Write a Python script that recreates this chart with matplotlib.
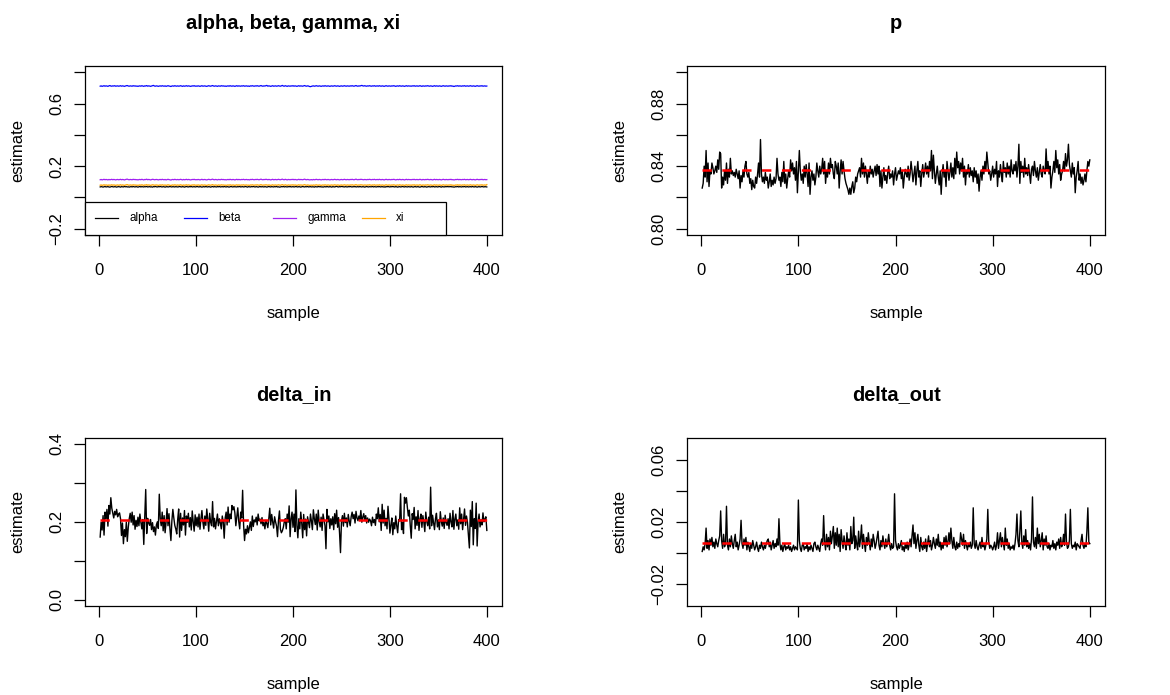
import matplotlib
matplotlib.use("Agg")
import matplotlib.pyplot as plt
import numpy as np
from matplotlib.patches import Rectangle

plt.rcParams['font.family'] = ['Liberation Sans', 'DejaVu Sans']
plt.rcParams['lines.scale_dashes'] = False

# ---------------- data ----------------
series_names = ['alpha', 'beta', 'gamma', 'xi']
series_colors = ['black', '#0000FF', '#A020F0', '#FFA500']

alpha = [
 .067,.069,.068,.066,.068,.070,.067,.068,.069,.067,.066,.068,.070,.068,.067,.069,.068,.066,.068,.069,
 .068,.066,.069,.068,.067,.070,.068,.069,.067,.068,.066,.068,.069,.067,.070,.068,.067,.069,.068,.066,
 .068,.070,.067,.069,.068,.067,.069,.068,.070,.067,.068,.069,.067,.068,.066,.069,.068,.070,.068,.067,
 .069,.068,.070,.068,.067,.069,.068,.066,.068,.069,.067,.068,.070,.068,.067,.069,.068,.067,.069,.068,
 .067,.068,.070,.068,.067,.069,.068,.066,.068,.070,.068,.067,.069,.068,.070,.067,.068,.069,.067,.068,
 .070,.068,.067,.069,.068,.066,.068,.069,.067,.070,.068,.067,.069,.068,.066,.068,.070,.067,.069,.068,
 .067,.069,.068,.070,.067,.068,.069,.067,.070,.068,.067,.069,.068,.066,.068,.070,.068,.067,.069,.068,
 .068,.067,.069,.068,.070,.067,.068,.069,.067,.068,.070,.068,.066,.069,.068,.067,.069,.068,.070,.068,
 .067,.069,.068,.066,.068,.070,.067,.069,.068,.067,.069,.068,.066,.068,.070,.068,.067,.069,.068,.067,
 .069,.068,.070,.067,.068,.066,.067,.069,.068,.070,.067,.069,.068,.067,.069,.068,.070,.067,.068,.069,
 .067,.068,.070,.068,.067,.069,.068,.066,.068,.070,.068,.067,.069,.068,.070,.067,.068,.069,.067,.068,
 .068,.066,.069,.068,.067,.070,.068,.069,.067,.068,.066,.068,.069,.067,.070,.068,.067,.069,.068,.066,
 .069,.068,.067,.069,.071,.068,.067,.069,.068,.070,.069,.068,.067,.069,.068,.067,.069,.068,.070,.068,
 .067,.069,.068,.070,.067,.068,.069,.067,.070,.068,.067,.069,.068,.066,.068,.070,.068,.067,.069,.068,
 .068,.070,.067,.069,.068,.067,.069,.068,.070,.067,.068,.069,.067,.068,.066,.069,.068,.070,.068,.067,
 .069,.068,.070,.068,.067,.069,.068,.066,.068,.069,.067,.068,.070,.068,.067,.069,.068,.067,.069,.068,
 .067,.069,.068,.066,.068,.070,.067,.068,.069,.067,.066,.068,.070,.068,.067,.069,.068,.066,.068,.069,
 .068,.067,.069,.068,.070,.067,.068,.069,.067,.068,.070,.068,.066,.069,.068,.067,.069,.068,.070,.068,
 .069,.068,.070,.067,.068,.066,.067,.069,.068,.070,.067,.069,.068,.067,.069,.068,.070,.067,.068,.069,
 .067,.068,.069,.067,.070,.068,.067,.069,.068,.066,.068,.069,.067,.068,.070,.068,.067,.069,.068,.067]

beta = [
 .711,.713,.710,.712,.714,.711,.713,.712,.710,.713,.715,.712,.711,.713,.712,.714,.711,.712,.713,.711,
 .712,.714,.711,.713,.712,.710,.712,.714,.715,.712,.711,.713,.712,.711,.714,.712,.713,.711,.712,.710,
 .712,.713,.711,.714,.712,.710,.713,.712,.715,.711,.713,.712,.710,.712,.714,.716,.712,.711,.713,.712,
 .710,.712,.713,.711,.714,.712,.711,.713,.710,.712,.714,.712,.711,.709,.712,.713,.711,.714,.712,.711,
 .713,.711,.712,.714,.712,.710,.713,.711,.712,.714,.711,.713,.712,.710,.711,.713,.712,.714,.711,.712,
 .711,.713,.712,.710,.712,.714,.711,.712,.713,.711,.710,.712,.714,.712,.711,.713,.715,.712,.711,.713,
 .712,.710,.713,.712,.711,.714,.712,.713,.711,.712,.710,.712,.713,.711,.714,.712,.711,.713,.712,.710,
 .712,.714,.711,.713,.712,.711,.713,.712,.714,.711,.712,.713,.711,.712,.710,.713,.712,.714,.712,.711,
 .713,.712,.714,.712,.711,.713,.715,.712,.711,.713,.712,.714,.716,.711,.713,.712,.710,.712,.714,.711,
 .712,.713,.711,.712,.714,.712,.711,.713,.716,.712,.711,.714,.712,.710,.713,.712,.711,.713,.712,.714,
 .711,.713,.712,.710,.712,.714,.711,.713,.712,.711,.713,.715,.712,.711,.713,.712,.709,.708,.710,.712,
 .713,.711,.712,.714,.712,.711,.713,.712,.710,.712,.713,.711,.714,.712,.711,.713,.712,.710,.712,.713,
 .711,.712,.714,.712,.711,.713,.712,.710,.712,.713,.711,.712,.714,.712,.711,.713,.712,.711,.713,.712,
 .714,.712,.711,.713,.715,.712,.711,.713,.712,.714,.716,.713,.712,.714,.712,.711,.713,.712,.714,.712,
 .711,.713,.712,.714,.711,.712,.713,.711,.714,.712,.711,.713,.712,.710,.712,.714,.712,.711,.713,.712,
 .711,.713,.712,.714,.712,.710,.712,.713,.711,.714,.712,.711,.713,.712,.710,.712,.714,.711,.713,.712,
 .712,.711,.713,.712,.714,.711,.712,.713,.711,.712,.714,.712,.710,.713,.712,.711,.713,.712,.714,.712,
 .711,.713,.712,.710,.712,.714,.711,.713,.712,.711,.713,.712,.710,.712,.714,.712,.711,.713,.712,.711,
 .713,.712,.714,.711,.712,.709,.711,.713,.712,.714,.711,.713,.712,.711,.713,.712,.714,.711,.712,.713,
 .711,.712,.714,.712,.711,.713,.712,.710,.712,.714,.712,.711,.713,.712,.714,.711,.712,.713,.711,.712]

gamma = [
 .113,.115,.112,.114,.116,.113,.115,.114,.112,.115,.113,.114,.116,.113,.115,.114,.112,.114,.115,.113,
 .114,.116,.113,.115,.114,.112,.114,.116,.117,.114,.113,.115,.114,.113,.116,.114,.115,.113,.114,.112,
 .114,.115,.113,.116,.114,.112,.115,.114,.117,.113,.115,.114,.112,.114,.116,.115,.113,.114,.115,.114,
 .112,.114,.115,.113,.116,.114,.113,.115,.112,.114,.116,.114,.113,.111,.114,.115,.113,.116,.114,.113,
 .115,.113,.114,.116,.114,.112,.115,.113,.114,.116,.113,.115,.114,.112,.113,.115,.114,.116,.113,.114,
 .113,.115,.114,.112,.114,.116,.113,.114,.115,.113,.112,.114,.116,.114,.113,.115,.117,.114,.113,.115,
 .114,.112,.115,.114,.113,.116,.114,.115,.113,.114,.112,.114,.115,.113,.116,.114,.113,.115,.114,.112,
 .114,.116,.113,.115,.114,.113,.115,.114,.116,.113,.114,.115,.113,.114,.112,.115,.114,.116,.114,.113,
 .115,.114,.116,.114,.113,.115,.117,.114,.113,.115,.114,.116,.115,.113,.115,.114,.112,.114,.116,.113,
 .114,.115,.113,.114,.116,.114,.113,.115,.117,.114,.113,.116,.114,.112,.115,.114,.113,.115,.114,.116,
 .113,.115,.114,.112,.114,.116,.113,.115,.114,.113,.115,.117,.114,.113,.115,.114,.112,.113,.114,.112,
 .115,.113,.114,.116,.114,.113,.115,.114,.112,.114,.115,.113,.116,.114,.113,.115,.114,.112,.114,.115,
 .113,.114,.116,.114,.113,.115,.114,.112,.114,.115,.113,.114,.116,.114,.113,.115,.114,.113,.115,.114,
 .116,.114,.113,.115,.117,.114,.113,.115,.114,.116,.115,.114,.113,.115,.114,.113,.115,.114,.116,.114,
 .113,.115,.114,.116,.113,.114,.115,.113,.116,.114,.113,.115,.114,.112,.114,.116,.114,.113,.115,.114,
 .113,.115,.114,.116,.114,.112,.114,.115,.113,.116,.114,.113,.115,.114,.112,.114,.116,.113,.115,.114,
 .114,.113,.115,.114,.116,.113,.114,.115,.113,.114,.116,.114,.112,.115,.114,.113,.115,.114,.116,.114,
 .113,.115,.114,.112,.114,.116,.113,.115,.114,.113,.115,.114,.112,.114,.116,.114,.113,.115,.114,.113,
 .115,.114,.116,.113,.114,.112,.113,.115,.114,.116,.113,.115,.114,.113,.115,.114,.116,.113,.114,.115,
 .113,.114,.116,.114,.113,.115,.114,.112,.114,.116,.114,.113,.115,.114,.116,.113,.114,.115,.113,.114]

xi = [
 .078,.080,.077,.079,.081,.078,.080,.079,.077,.080,.078,.079,.081,.078,.080,.079,.077,.079,.080,.078,
 .079,.081,.078,.080,.079,.077,.079,.081,.082,.079,.078,.080,.079,.078,.081,.079,.080,.078,.079,.077,
 .079,.080,.078,.081,.079,.077,.080,.079,.082,.078,.080,.079,.077,.079,.081,.080,.078,.079,.080,.079,
 .077,.079,.080,.078,.081,.079,.078,.080,.077,.079,.081,.079,.078,.076,.079,.080,.078,.081,.079,.078,
 .080,.078,.079,.081,.079,.077,.080,.078,.079,.081,.078,.080,.079,.077,.078,.080,.079,.081,.078,.079,
 .078,.080,.079,.077,.079,.081,.078,.079,.080,.078,.077,.079,.081,.079,.078,.080,.082,.079,.078,.080,
 .079,.077,.080,.079,.078,.081,.079,.080,.078,.079,.077,.079,.080,.078,.081,.079,.078,.080,.079,.077,
 .079,.081,.078,.080,.079,.078,.080,.079,.081,.078,.079,.080,.078,.079,.077,.080,.079,.081,.079,.078,
 .080,.079,.081,.079,.078,.080,.082,.079,.078,.080,.079,.081,.080,.078,.080,.079,.077,.079,.081,.078,
 .079,.080,.078,.079,.081,.079,.078,.080,.082,.079,.078,.081,.079,.077,.080,.079,.078,.080,.079,.081,
 .078,.080,.079,.077,.079,.081,.078,.080,.079,.078,.080,.082,.079,.078,.080,.079,.077,.078,.079,.077,
 .080,.078,.079,.081,.079,.078,.080,.079,.077,.079,.080,.078,.081,.079,.078,.080,.079,.077,.079,.080,
 .078,.079,.081,.079,.078,.080,.079,.077,.079,.080,.078,.079,.081,.079,.078,.080,.079,.078,.080,.079,
 .081,.079,.078,.080,.082,.079,.078,.080,.079,.081,.080,.079,.078,.080,.079,.078,.080,.079,.081,.079,
 .078,.080,.079,.081,.078,.079,.080,.078,.081,.079,.078,.080,.079,.077,.079,.081,.079,.078,.080,.079,
 .078,.080,.079,.081,.079,.077,.079,.080,.078,.081,.079,.078,.080,.079,.077,.079,.081,.078,.080,.079,
 .079,.078,.080,.079,.081,.078,.079,.080,.078,.079,.081,.079,.077,.080,.079,.078,.080,.079,.081,.079,
 .078,.080,.079,.077,.079,.081,.078,.080,.079,.078,.080,.079,.077,.079,.081,.079,.078,.080,.079,.078,
 .080,.079,.081,.078,.079,.077,.078,.080,.079,.081,.078,.080,.079,.078,.080,.079,.081,.078,.079,.080,
 .078,.079,.081,.079,.078,.080,.079,.077,.079,.081,.079,.078,.080,.079,.081,.078,.079,.080,.078,.082]

p = [
 .826,.829,.840,.833,.850,.830,.842,.827,.837,.835,.842,.839,.835,.837,.840,.836,.844,.838,.849,.848,
 .826,.833,.828,.837,.831,.842,.829,.838,.833,.845,.835,.837,.834,.836,.833,.838,.835,.832,.837,.826,
 .834,.830,.837,.833,.840,.843,.835,.833,.836,.829,.832,.825,.831,.827,.826,.833,.829,.835,.842,.833,
 .857,.835,.830,.833,.829,.836,.831,.833,.826,.830,.835,.827,.831,.828,.833,.829,.832,.845,.835,.831,
 .833,.827,.836,.830,.843,.829,.835,.826,.832,.837,.833,.844,.837,.842,.835,.839,.831,.843,.823,.837,
 .850,.837,.831,.835,.829,.840,.833,.841,.835,.827,.842,.822,.833,.837,.831,.835,.828,.833,.842,.837,
 .833,.840,.835,.838,.845,.835,.843,.829,.837,.833,.842,.835,.845,.839,.841,.835,.832,.843,.840,.835,
 .842,.826,.837,.844,.835,.843,.837,.832,.829,.827,.825,.822,.826,.822,.827,.830,.823,.826,.833,.830,
 .835,.837,.839,.833,.845,.835,.842,.833,.840,.835,.829,.837,.833,.840,.835,.838,.833,.837,.840,.834,
 .841,.835,.840,.827,.837,.826,.833,.839,.831,.834,.829,.836,.840,.832,.835,.833,.837,.828,.835,.839,
 .831,.834,.837,.835,.839,.832,.837,.826,.833,.838,.835,.833,.840,.831,.835,.843,.837,.830,.835,.840,
 .828,.837,.843,.833,.837,.827,.835,.841,.833,.837,.842,.835,.840,.833,.843,.837,.850,.832,.847,.837,
 .829,.835,.840,.833,.828,.837,.822,.835,.841,.833,.837,.827,.843,.837,.831,.836,.842,.833,.839,.832,
 .845,.835,.849,.839,.843,.835,.842,.837,.845,.833,.840,.828,.837,.835,.841,.833,.839,.834,.837,.830,
 .839,.833,.837,.829,.835,.824,.833,.837,.831,.840,.835,.843,.837,.849,.842,.835,.837,.831,.835,.840,
 .833,.838,.835,.843,.827,.837,.833,.841,.835,.830,.843,.836,.839,.833,.842,.835,.840,.833,.844,.837,
 .835,.841,.837,.843,.833,.840,.854,.829,.843,.836,.840,.833,.845,.835,.839,.834,.841,.835,.829,.838,
 .840,.834,.843,.837,.833,.839,.831,.836,.841,.835,.833,.840,.837,.835,.851,.838,.843,.835,.840,.826,
 .833,.837,.843,.836,.850,.839,.844,.835,.841,.831,.835,.837,.843,.837,.848,.840,.844,.854,.841,.837,
 .833,.842,.835,.839,.823,.833,.837,.843,.831,.835,.829,.833,.828,.831,.835,.830,.837,.843,.840,.844]

delta_in = [
 .161,.199,.179,.216,.166,.225,.208,.232,.189,.242,.220,.262,.235,.222,.210,.227,.218,.232,.213,.220,
 .223,.208,.165,.197,.144,.180,.162,.199,.150,.186,.208,.222,.199,.225,.192,.216,.181,.204,.188,.212,
 .190,.220,.199,.182,.206,.142,.215,.283,.170,.209,.197,.191,.206,.180,.198,.175,.187,.166,.192,.200,
 .183,.271,.208,.190,.225,.177,.216,.172,.199,.234,.190,.221,.182,.152,.203,.232,.210,.191,.182,.169,
 .206,.233,.161,.222,.178,.210,.192,.229,.166,.215,.199,.222,.187,.211,.179,.228,.200,.176,.218,.190,
 .212,.187,.220,.181,.208,.229,.199,.182,.215,.191,.233,.208,.176,.222,.199,.190,.252,.187,.209,.182,
 .202,.220,.190,.208,.197,.182,.215,.200,.158,.210,.225,.192,.238,.199,.220,.208,.242,.231,.239,.223,
 .190,.212,.236,.201,.182,.225,.210,.281,.192,.152,.181,.169,.190,.172,.186,.200,.178,.215,.188,.205,
 .200,.212,.192,.220,.203,.207,.195,.211,.190,.199,.182,.204,.196,.185,.208,.235,.192,.219,.200,.184,
 .213,.200,.189,.162,.204,.228,.181,.172,.177,.186,.200,.208,.182,.220,.199,.241,.162,.208,.225,.186,
 .220,.175,.282,.191,.159,.208,.182,.225,.197,.159,.219,.180,.207,.164,.213,.199,.185,.220,.202,.180,
 .231,.208,.193,.220,.179,.230,.201,.187,.212,.178,.220,.205,.190,.131,.232,.200,.215,.183,.208,.192,
 .213,.180,.221,.195,.230,.186,.211,.172,.121,.202,.216,.189,.222,.198,.210,.187,.219,.202,.190,.213,
 .225,.208,.219,.197,.227,.210,.203,.215,.206,.229,.199,.212,.221,.204,.216,.197,.210,.199,.207,.203,
 .190,.212,.198,.206,.191,.220,.208,.236,.200,.219,.178,.245,.197,.230,.190,.209,.182,.240,.208,.171,
 .192,.210,.167,.198,.182,.215,.190,.172,.206,.203,.272,.180,.199,.170,.263,.248,.262,.237,.215,.230,
 .190,.158,.221,.206,.237,.182,.213,.191,.229,.178,.207,.220,.186,.216,.199,.175,.225,.201,.190,.212,
 .182,.289,.190,.217,.199,.180,.208,.222,.187,.205,.180,.226,.201,.189,.210,.183,.217,.198,.191,.208,
 .182,.222,.200,.187,.229,.181,.207,.220,.190,.205,.181,.236,.195,.220,.180,.208,.233,.191,.215,.199,
 .166,.133,.230,.188,.252,.141,.208,.183,.248,.138,.201,.220,.187,.205,.192,.223,.200,.207,.213,.178]

delta_out = [
 .001,.004,.002,.006,.016,.003,.008,.002,.009,.005,.010,.004,.007,.003,.009,.006,.004,.008,.011,.027,
 .008,.003,.012,.004,.006,.030,.005,.002,.009,.004,.011,.006,.003,.008,.012,.004,.007,.002,.005,.009,
 .021,.006,.003,.009,.005,.010,.002,.007,.004,.001,.006,.003,.008,.005,.002,.004,.007,.003,.001,.005,
 .003,.007,.004,.002,.005,.003,.006,.008,.009,.004,.007,.002,.005,.008,.003,.006,.004,.009,.005,.022,
 .006,.002,.005,.001,.004,.006,.002,.004,.003,.005,.002,.004,.001,.003,.005,.002,.004,.003,.002,.034,
 .008,.003,.001,.005,.006,.002,.004,.003,.006,.001,.004,.002,.005,.003,.001,.006,.007,.004,.002,.005,
 .003,.001,.006,.009,.005,.024,.007,.002,.012,.004,.010,.002,.014,.006,.011,.017,.003,.013,.005,.016,
 .004,.012,.001,.015,.008,.003,.011,.006,.002,.013,.005,.009,.002,.017,.006,.008,.023,.003,.011,.006,
 .002,.014,.004,.009,.018,.003,.012,.006,.001,.010,.005,.013,.007,.002,.009,.004,.012,.008,.003,.006,
 .010,.014,.005,.002,.008,.004,.011,.006,.003,.009,.004,.007,.012,.005,.002,.006,.003,.004,.038,.008,
 .004,.002,.006,.003,.005,.008,.002,.004,.001,.006,.003,.007,.002,.005,.009,.004,.011,.018,.006,.013,
 .003,.008,.012,.005,.001,.010,.004,.002,.007,.003,.009,.001,.006,.011,.004,.008,.002,.005,.010,.006,
 .003,.009,.005,.012,.004,.007,.002,.006,.003,.010,.005,.011,.004,.007,.013,.006,.016,.008,.003,.010,
 .004,.002,.007,.003,.006,.004,.013,.009,.005,.012,.003,.008,.005,.002,.006,.004,.007,.003,.005,.029,
 .006,.003,.008,.004,.002,.005,.007,.003,.010,.004,.006,.002,.005,.009,.028,.007,.003,.005,.004,.002,
 .004,.007,.002,.005,.013,.003,.008,.013,.004,.010,.006,.002,.016,.005,.009,.003,.006,.002,.004,.003,
 .005,.002,.006,.012,.025,.008,.004,.014,.027,.007,.003,.011,.005,.015,.004,.008,.003,.006,.002,.009,
 .036,.007,.004,.010,.003,.016,.006,.012,.004,.008,.013,.002,.009,.005,.011,.004,.003,.006,.002,.005,
 .004,.008,.003,.006,.002,.007,.005,.009,.003,.010,.004,.006,.012,.005,.025,.007,.003,.004,.008,.028,
 .006,.003,.005,.004,.007,.002,.006,.005,.004,.003,.008,.012,.005,.003,.006,.004,.014,.029,.007,.006]

# red dashed reference levels (posterior means)
p_mean = 0.8374
delta_in_mean = 0.206
delta_out_mean = 0.0067

x_ticks = [0, 100, 200, 300, 400]
titles = ['alpha, beta, gamma, xi', 'p', 'delta_in', 'delta_out']
ylims = [(-0.24, 0.84), (0.796, 0.904), (-0.016, 0.416), (-0.034, 0.074)]
y_ticks = [[-0.2, 0.0, 0.2, 0.4, 0.6, 0.8],
           [0.80, 0.82, 0.84, 0.86, 0.88, 0.90],
           [0.0, 0.1, 0.2, 0.3, 0.4],
           [-0.02, 0.0, 0.02, 0.04, 0.06]]
y_labels = [['\u22120.2', '', '0.2', '', '0.6', ''],
            ['0.80', '', '0.84', '', '0.88', ''],
            ['0.0', '', '0.2', '', '0.4'],
            ['\u22120.02', '', '0.02', '', '0.06']]

# ---------------- figure ----------------
W, H = 1170, 695
fig = plt.figure(figsize=(W / 100, H / 100), dpi=100)

boxes = [(84.7, 66, 502.3, 235), (686.7, 66, 1105.3, 235),
         (84.7, 437.7, 502.3, 606), (686.7, 437.7, 1105.3, 606)]

axes = []
for i, (l, t, r, b) in enumerate(boxes):
    ax = fig.add_axes([l / W, 1 - b / H, (r - l) / W, (b - t) / H])
    ax.set_xlim(-14.96, 415.96)
    ax.set_ylim(*ylims[i])
    ax.set_xticks(x_ticks, [str(v) for v in x_ticks])
    ax.set_yticks(y_ticks[i], y_labels[i])
    for s in ax.spines.values():
        s.set_linewidth(0.9)
        s.set_color('black')
    ax.tick_params(axis='both', direction='out', length=7.9, width=0.9,
                   labelsize=12, colors='black')
    ax.tick_params(axis='x', pad=12)
    ax.tick_params(axis='y', pad=6.7)
    for lab in ax.get_yticklabels():
        lab.set_rotation(90)
        lab.set_va('center')
        lab.set_ha('right')
    cx = (l + r) / 2
    fig.text(cx / W, 1 - (t - 37.2) / H, titles[i], ha='center', va='baseline',
             fontsize=14.4, fontweight='bold')
    fig.text(cx / W, 1 - (b + 83) / H, 'sample', ha='center', va='baseline', fontsize=12)
    fig.text((l - 62) / W, 1 - ((t + b) / 2) / H, 'estimate', rotation=90,
             rotation_mode='anchor', ha='center', va='baseline', fontsize=12)
    axes.append(ax)

# panel 1: four parameter traces
ax = axes[0]
for vals, col in zip([alpha, beta, gamma, xi], series_colors):
    xs = np.arange(1, len(vals) + 1)
    ax.plot(xs, vals, color=col, lw=0.9)

# manual R-style horizontal legend (bottom-left)
l, t, r, b = boxes[0]
def afrac(px, py):
    return (px - l) / (r - l), (b - py) / (b - t)
x0, y0 = afrac(84.7, 235)
x1, y1 = afrac(445.7, 201.7)
ax.add_patch(Rectangle((x0, y0), x1 - x0, y1 - y0, transform=ax.transAxes,
                       facecolor='white', edgecolor='black', lw=0.9, zorder=5, clip_on=False))
for k, (name, col) in enumerate(zip(series_names, series_colors)):
    lx0, ly = afrac(95 + 89 * k, 218.3)
    lx1, _ = afrac(118.3 + 89 * k, 218.3)
    tx, _ = afrac(129 + 89 * k, 218.3)
    ax.plot([lx0, lx1], [ly, ly], color=col, lw=0.9, transform=ax.transAxes,
            zorder=6, clip_on=False)
    ax.text(tx, ly, name, transform=ax.transAxes, ha='left', va='center',
            fontsize=8.4, zorder=6)

# panels 2-4: single traces with red dashed mean
for ax, vals, m in zip(axes[1:], [p, delta_in, delta_out], [p_mean, delta_in_mean, delta_out_mean]):
    xs = np.arange(1, len(vals) + 1)
    ax.plot(xs, vals, color='black', lw=1.0)
    ax.hlines(m, xs[0], xs[-1], colors='red', lw=1.8, linestyles=(0, (6.7, 7.6)),
              zorder=3, capstyle='butt')

fig.savefig('out.png', dpi=100)
